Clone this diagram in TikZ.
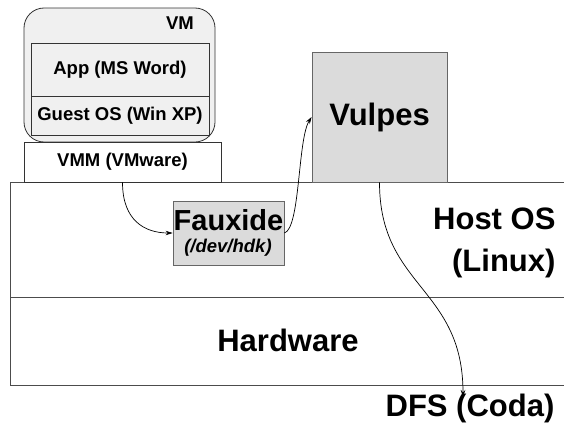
\documentclass[tikz,border=0pt]{standalone}
\usepackage{fontspec}
\setmainfont{Liberation Sans}
\usetikzlibrary{arrows.meta}
\begin{document}
\begin{tikzpicture}[x=1pt,y=-1pt,
  big/.style={font=\fontsize{31}{34}\selectfont\bfseries},
  small/.style={font=\fontsize{18.5}{21}\selectfont\bfseries},
  layerline/.style={draw=black!70,line width=1pt},
  shaded/.style={draw=black!60,fill=black!14,line width=0.8pt,inner sep=0pt},
  plainbox/.style={draw=black!80,line width=0.8pt,inner sep=0pt},
  flow/.style={-{Stealth[length=7pt,width=4.5pt]},line width=0.7pt}]
\useasboundingbox (0,0) rectangle (564,423);
% layers
\draw[layerline] (564,182) -| (10,385) -- (564,385);
\draw[layerline] (10,297) -- (564,297);
\node[big] (hw) at (288,340) {Hardware};
\node[big,align=right,anchor=east,font=\fontsize{31}{42}\selectfont\bfseries] (host) at (559,243) {Host OS\\(Linux)};
% guest side
\node[plainbox,fill=black!6,rounded corners=20pt,minimum width=191pt,minimum height=134pt] (vm) at (119.5,75) {};
\node[small] (vmlabel) at (180,23) {VM};
\node[plainbox,small,minimum width=178pt,minimum height=53pt] (app) at (120,69.5) {App (MS Word)};
\node[plainbox,small,minimum width=178pt,minimum height=39pt] (guest) at (120,115.5) {Guest OS (Win XP)};
\node[plainbox,small,fill=white,minimum width=197pt,minimum height=40pt] (vmm) at (122.5,162) {VMM (VMware)};
% host side
\node[shaded,minimum width=111pt,minimum height=64pt] (fauxide) at (228.5,233) {};
\node[big,font=\fontsize{29}{32}\selectfont\bfseries] (fxname) at (228.5,220) {Fauxide};
\node[small,font=\fontsize{18.5}{21}\selectfont\bfseries\itshape] (fxdev) at (228,248) {(/dev/hdk)};
\node[shaded,big,minimum width=135pt,minimum height=130pt] (vulpes) at (379.5,117) {Vulpes};
\node[big] (dfs) at (470,408) {DFS (Coda)};
\coordinate (dfsin) at (463,397);
% flows
\draw[flow] (vmm.south) .. controls +(0,38) and +(-28,0) .. (fauxide.west);
\draw[flow] (fauxide.east) .. controls +(16,-5) and +(-14,22) .. (vulpes.west);
\draw[flow] (vulpes.south) .. controls +(0,105) and +(0,-110) .. (dfsin);
\end{tikzpicture}
\end{document}
